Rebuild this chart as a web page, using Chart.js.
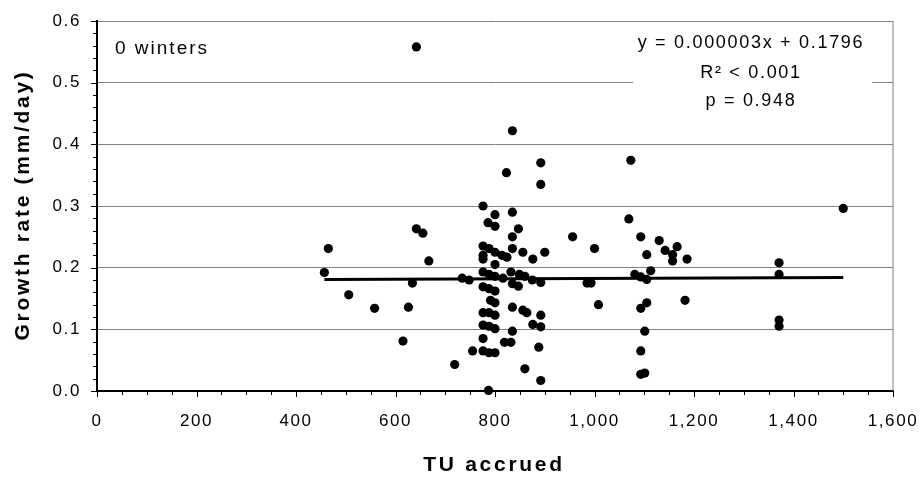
<!DOCTYPE html>
<html>
<head>
<meta charset="utf-8">
<script src="https://cdn.jsdelivr.net/npm/chart.js@4.4.1/dist/chart.umd.min.js"></script>
<style>
  html, body { margin: 0; padding: 0; background: #fff; }
  #wrap { width: 923px; height: 478px; }
</style>
</head>
<body>
<div id="wrap"><canvas id="growthChart" width="923" height="478"></canvas></div>
<script>
// TU accrued (x) and growth rate in mm/day (y), one entry per fish
const tuAccrued = [
    642, 835, 892, 823, 892, 776, 835, 800, 786, 800,
    847, 642, 655, 835, 956, 465, 1000, 776, 788, 800,
    814, 824, 835, 856, 900, 876, 776, 776, 667, 800,
    457, 776, 788, 800, 816, 832, 849, 860, 875, 892,
    734, 748, 634, 835, 847, 985, 993, 776, 788, 800,
    506, 791, 800, 1008, 626, 558, 835, 856, 864, 776,
    788, 800, 892, 776, 788, 800, 876, 892, 835, 776,
    615, 819, 832, 888, 755, 776, 788, 800, 719, 860,
    892, 787, 1073, 1069, 1500, 1093, 1130, 1105, 1142, 1166,
    1157, 1157, 1186, 1113, 1081, 1093, 1105, 1371, 1371, 1182,
    1105, 1093, 1371, 1371, 1101, 1093, 1093, 1101
];
const growthRate = [
    0.558, 0.422, 0.370, 0.354, 0.335, 0.300, 0.290, 0.286, 0.273, 0.267,
    0.263, 0.263, 0.256, 0.250, 0.250, 0.231, 0.231, 0.235, 0.231, 0.225,
    0.220, 0.217, 0.231, 0.225, 0.225, 0.214, 0.220, 0.214, 0.211, 0.205,
    0.192, 0.193, 0.189, 0.186, 0.183, 0.193, 0.189, 0.186, 0.180, 0.176,
    0.183, 0.180, 0.175, 0.174, 0.170, 0.175, 0.175, 0.169, 0.166, 0.162,
    0.156, 0.147, 0.143, 0.140, 0.136, 0.134, 0.136, 0.131, 0.127, 0.127,
    0.127, 0.123, 0.123, 0.107, 0.105, 0.101, 0.108, 0.104, 0.097, 0.085,
    0.081, 0.079, 0.079, 0.071, 0.065, 0.065, 0.062, 0.062, 0.043, 0.036,
    0.017, 0.001, 0.374, 0.279, 0.296, 0.250, 0.244, 0.221, 0.228, 0.234,
    0.221, 0.211, 0.214, 0.195, 0.189, 0.185, 0.181, 0.208, 0.189, 0.147,
    0.143, 0.134, 0.115, 0.105, 0.097, 0.065, 0.027, 0.029
];
const xTickValues = [0, 200, 400, 600, 800, 1000, 1200, 1400, 1600];
const yTickValues = [0, 0.1, 0.2, 0.3, 0.4, 0.5, 0.6];
const trendSlope = 0.000003;
const trendIntercept = 0.1796;
const statLines = ["y = 0.000003x + 0.1796", "R\u00b2 < 0.001", "p = 0.948"];
const panelLabel = "0 winters";
const xTitle = "TU accrued";
const yTitle = "Growth rate (mm/day)";

(function (document) {
    "use strict";

    const fontFamily = "'Liberation Sans', Arial, sans-serif";
    const gridGray = "#808080";

    const points = tuAccrued.map((x, i) => ({ x: x, y: growthRate[i] }));
    const xMin = Math.min(...tuAccrued);
    const xMax = Math.max(...tuAccrued);
    const trend = [
        { x: xMin, y: trendSlope * xMin + trendIntercept },
        { x: xMax, y: trendSlope * xMax + trendIntercept }
    ];

    // ticks, frame, titles and the text boxes, drawn the way Excel does
    const decorPlugin = {
        id: "excelDecor",
        beforeDraw: (chart) => {
            chart.ctx.letterSpacing = "1.6px";
        },
        beforeDatasetsDraw: (chart) => {
            const { ctx, chartArea } = chart;
            const xs = chart.scales.x;
            const ys = chart.scales.y;
            ctx.save();

            // plot frame, right side
            ctx.strokeStyle = gridGray;
            ctx.lineWidth = 1;
            ctx.beginPath();
            ctx.moveTo(chartArea.right, chartArea.top);
            ctx.lineTo(chartArea.right, chartArea.bottom);
            ctx.stroke();

            // tick marks
            ctx.strokeStyle = "#000";
            ctx.lineWidth = 1;
            for (let i = 0; i <= 30; i++) {
                const py = Math.round(ys.getPixelForValue(i * 0.02)) + 0.5;
                const len = i % 5 === 0 ? 6 : 4;
                ctx.beginPath();
                ctx.moveTo(chartArea.left - len, py);
                ctx.lineTo(chartArea.left, py);
                ctx.stroke();
            }
            for (let v = 0; v <= 1600; v += 50) {
                const px = Math.round(xs.getPixelForValue(v)) + 0.5;
                const len = v % 200 === 0 ? 6 : 4;
                ctx.beginPath();
                ctx.moveTo(px, chartArea.bottom);
                ctx.lineTo(px, chartArea.bottom + len);
                ctx.stroke();
            }

            // stats box hides the gridline behind it
            ctx.fillStyle = "#fff";
            ctx.fillRect(633, chartArea.top + 1.5, 239, 95);

            ctx.fillStyle = "#000";
            ctx.textBaseline = "middle";
            ctx.textAlign = "center";
            ctx.font = "18px " + fontFamily;
            ctx.letterSpacing = "1.7px";
            const statY = [43, 73, 101];
            statLines.forEach((line, i) => ctx.fillText(line, 751, statY[i]));

            ctx.textAlign = "left";
            ctx.font = "19px " + fontFamily;
            ctx.letterSpacing = "2px";
            ctx.fillText(panelLabel, 115, 49);

            // axis titles
            ctx.font = "bold 21px " + fontFamily;
            ctx.letterSpacing = "2.7px";
            ctx.textAlign = "center";
            ctx.fillText(xTitle, 494, 465);
            ctx.save();
            ctx.translate(23, 205);
            ctx.rotate(-Math.PI / 2);
            ctx.fillText(yTitle, 0, 0);
            ctx.restore();

            ctx.restore();
        }
    };

    const chartOptions = {
        type: "scatter",
        data: {
            datasets: [
                {
                    type: "line",
                    data: trend,
                    borderColor: "#000",
                    borderWidth: 3,
                    pointRadius: 0,
                    fill: false,
                    clip: false,
                    order: 2
                },
                {
                    data: points,
                    backgroundColor: "#000",
                    borderColor: "#000",
                    borderWidth: 0,
                    pointRadius: 4.6,
                    clip: false,
                    order: 1
                }
            ]
        },
        options: {
            responsive: false,
            animation: false,
            events: [],
            layout: {
                autoPadding: false,
                padding: { left: 0, top: 21, right: 30, bottom: 0 }
            },
            plugins: {
                legend: { display: false },
                tooltip: { enabled: false }
            },
            scales: {
                x: {
                    type: "linear",
                    min: 0,
                    max: 1600,
                    afterBuildTicks: (axis) => {
                        axis.ticks = xTickValues.map((v) => ({ value: v }));
                    },
                    afterFit: (axis) => {
                        axis.height = 87;
                        axis.paddingRight = 0;
                        axis.paddingLeft = 0;
                    },
                    grid: { display: false, drawTicks: false },
                    border: { display: true, color: "#000", width: 2 },
                    ticks: {
                        padding: 20,
                        color: "#000",
                        maxRotation: 0,
                        font: { family: fontFamily, size: 17 },
                        callback: (v) => v.toLocaleString("en-US")
                    }
                },
                y: {
                    type: "linear",
                    min: 0,
                    max: 0.6,
                    afterBuildTicks: (axis) => {
                        axis.ticks = yTickValues.map((v) => ({ value: v }));
                    },
                    afterFit: (axis) => {
                        axis.width = 97;
                        axis.paddingTop = 0;
                        axis.paddingBottom = 0;
                    },
                    grid: {
                        drawTicks: false,
                        lineWidth: 1,
                        color: (c) => (c.tick && c.tick.value === 0 ? "rgba(0,0,0,0)" : gridGray)
                    },
                    border: { display: true, color: "#000", width: 2 },
                    ticks: {
                        padding: 16,
                        color: "#000",
                        font: { family: fontFamily, size: 17 },
                        callback: (v) => v.toFixed(1)
                    }
                }
            }
        },
        plugins: [decorPlugin]
    };

    new Chart(document.getElementById("growthChart"), chartOptions);
})(document);
</script>
</body>
</html>
